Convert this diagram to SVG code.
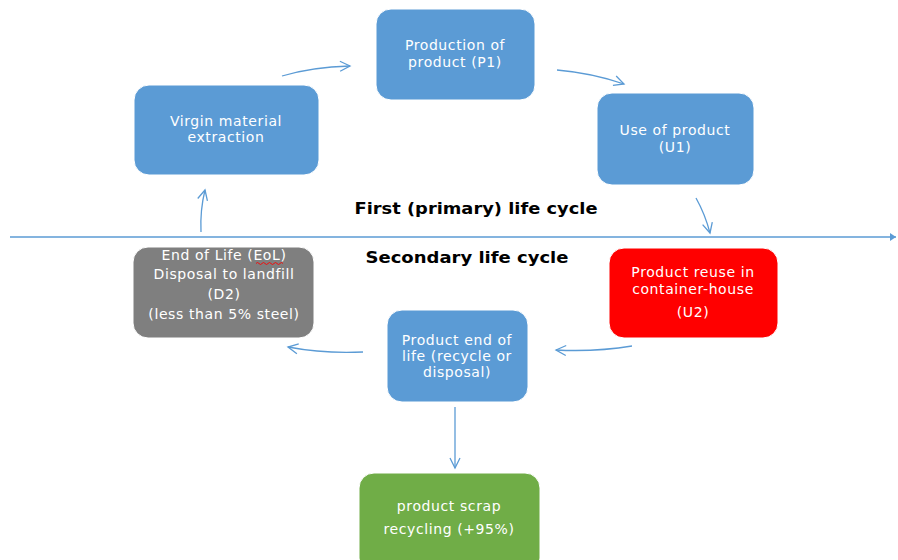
<svg xmlns="http://www.w3.org/2000/svg" width="898" height="560" viewBox="0 0 898 560">
<style>
.box{stroke:#ffffff;stroke-width:1}
.blue{fill:#5b9bd5}
.gray{fill:#7f7f7f}
.red{fill:#ff0000}
.green{fill:#70ad47}
.t{font-family:"DejaVu Sans","Liberation Sans",sans-serif;font-size:14px;letter-spacing:0.6px;fill:#ffffff;text-anchor:middle}
.h{font-family:"DejaVu Sans","Liberation Sans",sans-serif;font-size:16.5px;font-weight:bold;fill:#000000;text-anchor:middle}
.c{fill:none;stroke:#5b9bd5;stroke-width:1.3}
</style>
<defs>
<marker id="open" markerUnits="userSpaceOnUse" markerWidth="14" markerHeight="14" refX="11" refY="6" orient="auto">
<path d="M1,1 L11,6 L1,11" fill="none" stroke="#5b9bd5" stroke-width="1.3"/>
</marker>
<marker id="solid" markerUnits="userSpaceOnUse" markerWidth="8" markerHeight="8" refX="6" refY="4" orient="auto">
<path d="M0,0 L6,4 L0,8 Z" fill="#5b9bd5"/>
</marker>
</defs>
<rect width="898" height="560" fill="#ffffff"/>
<g id="connectors">
<line class="c" x1="10" y1="237" x2="896" y2="237" marker-end="url(#solid)"/>
<path class="c" d="M282,76 Q312,67 350,66" marker-end="url(#open)"/>
<path class="c" d="M557,70 Q592,73 624,84" marker-end="url(#open)"/>
<path class="c" d="M696,198 Q705,214 710,233" marker-end="url(#open)"/>
<path class="c" d="M632,346 Q596,352 556,350" marker-end="url(#open)"/>
<path class="c" d="M363,352 Q325,354 288,347" marker-end="url(#open)"/>
<path class="c" d="M455,407 L455,468" marker-end="url(#open)"/>
<path class="c" d="M201,232 Q200,210 205,190" marker-end="url(#open)"/>
</g>
<g id="labels">
<text class="h" x="476" y="214" textLength="243" lengthAdjust="spacingAndGlyphs">First (primary) life cycle</text>
<text class="h" x="467" y="263" textLength="203" lengthAdjust="spacingAndGlyphs">Secondary life cycle</text>
</g>
<g id="node-production">
<rect class="box blue" x="376" y="9" width="159" height="91" rx="15"/>
<text class="t" x="455" y="50">Production of</text>
<text class="t" x="455" y="67">product (P1)</text>
</g>
<g id="node-virgin">
<rect class="box blue" x="134" y="85" width="185" height="90" rx="15"/>
<text class="t" x="226" y="126">Virgin material</text>
<text class="t" x="226" y="142">extraction</text>
</g>
<g id="node-use">
<rect class="box blue" x="597" y="93" width="157" height="92" rx="15"/>
<text class="t" x="675" y="135">Use of product</text>
<text class="t" x="675" y="152">(U1)</text>
</g>
<g id="node-eol">
<rect class="box gray" x="133" y="247" width="181" height="91" rx="15"/>
<text class="t" x="224" y="260">End of Life (EoL)</text>
<path d="M256,263.5 q1.5,-2 3,0 t3,0 t3,0 t3,0 t3,0 t3,0 t3,0 t3,0 t3,0" fill="none" stroke="#ff0000" stroke-width="0.9"/>
<text class="t" x="224" y="279">Disposal to landfill</text>
<text class="t" x="224" y="299">(D2)</text>
<text class="t" x="224" y="319">(less than 5% steel)</text>
</g>
<g id="node-reuse">
<rect class="box red" x="609" y="248" width="169" height="90" rx="15"/>
<text class="t" x="693" y="277">Product reuse in</text>
<text class="t" x="693" y="294">container-house</text>
<text class="t" x="693" y="317">(U2)</text>
</g>
<g id="node-endoflife">
<rect class="box blue" x="387" y="310" width="141" height="92" rx="15"/>
<text class="t" x="457" y="345">Product end of</text>
<text class="t" x="457" y="361">life (recycle or</text>
<text class="t" x="457" y="377">disposal)</text>
</g>
<g id="node-recycling">
<rect class="box green" x="359" y="473" width="181" height="100" rx="15"/>
<text class="t" x="449" y="511">product scrap</text>
<text class="t" x="449" y="534">recycling (+95%)</text>
</g>
</svg>
